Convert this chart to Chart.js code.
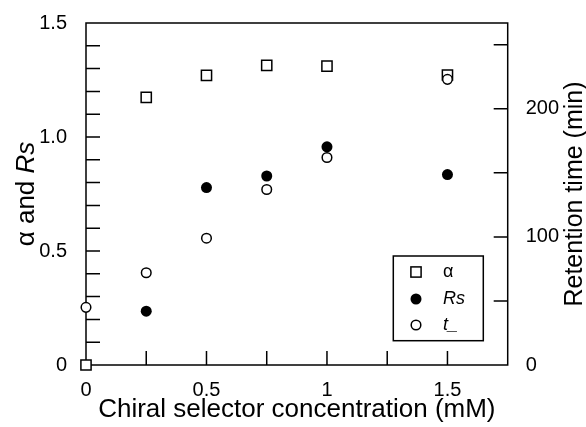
<!DOCTYPE html>
<html><head><meta charset="utf-8">
<script src="https://cdn.jsdelivr.net/npm/chart.js@4.4.1/dist/chart.umd.min.js"></script>
<style>html,body{margin:0;padding:0;background:#fff;} #wrap{width:586px;height:427px;}</style>
</head><body><div id="wrap"><canvas id="c" width="586" height="427"></canvas></div>
<script>
// ---- data ----
const concentration = [0, 0.25, 0.5, 0.75, 1, 1.5];
const alphaValues = [0, 1.174, 1.27, 1.314, 1.311, 1.272];
const rsValues = [null, 0.236, 0.778, 0.829, 0.957, 0.835];
const retentionTime = [45, 72, 99, 137, 162, 223];
const xLabelValues = [0, 0.5, 1, 1.5];
const xTickLabels = ['0', '0.5', '1', '1.5'];
const leftLabelValues = [0, 0.5, 1, 1.5];
const leftTickLabels = ['0', '0.5', '1.0', '1.5'];
const rightLabelValues = [0, 100, 200];
const rightTickLabels = ['0', '100', '200'];
const xTitle = 'Chiral selector concentration (mM)';
const leftTitleParts = [['α and ', false], ['Rs', true]];
const rightTitle = 'Retention time (min)';
const legendLabels = ['α', 'Rs', 't_'];

const FONT = '"Liberation Sans", Arial, Helvetica, sans-serif';
const TITLE_PX = 26, RTITLE_PX = 25, TICK_PX = 20, LEG_PX = 18;
const pts = ys => concentration.map((x, i) => ({x: x, y: ys[i]})).filter(p => p.y !== null);
const findLabel = (vals, labels, v) => { const i = vals.findIndex(u => Math.abs(u - v) < 1e-9); return i >= 0 ? labels[i] : ''; };
const stepTicks = (min, max, step) => { const a = []; for (let k = 0; min + k * step <= max + 1e-9; k++) a.push({value: +(min + k * step).toFixed(6)}); return a; };

const frame = {
  id: 'frame',
  beforeDatasetsDraw(chart) {
    const {ctx, chartArea: a, scales} = chart;
    ctx.save();
    ctx.strokeStyle = '#000'; ctx.lineWidth = 1.5;
    ctx.strokeRect(a.left, a.top, a.right - a.left, a.bottom - a.top);
    const T = 14;
    ctx.beginPath();
    scales.x.ticks.forEach(t => { if (t.value > scales.x.min && t.value < scales.x.max) { const px = scales.x.getPixelForValue(t.value); ctx.moveTo(px, a.bottom); ctx.lineTo(px, a.bottom - T); } });
    scales.y.ticks.forEach(t => { if (t.value > scales.y.min && t.value < scales.y.max) { const py = scales.y.getPixelForValue(t.value); ctx.moveTo(a.left, py); ctx.lineTo(a.left + T, py); } });
    scales.y2.ticks.forEach(t => { if (t.value > scales.y2.min && t.value < scales.y2.max) { const py = scales.y2.getPixelForValue(t.value); ctx.moveTo(a.right, py); ctx.lineTo(a.right - T, py); } });
    ctx.stroke();
    ctx.restore();
  },
  afterDraw(chart) {
    const {ctx, chartArea: a} = chart;
    ctx.save();
    ctx.fillStyle = '#000';
    // x title
    ctx.font = TITLE_PX + 'px ' + FONT; ctx.textAlign = 'center'; ctx.textBaseline = 'alphabetic';
    ctx.fillText(xTitle, (a.left + a.right) / 2, 417);
    // left title (mixed italic)
    const cy = (a.top + a.bottom) / 2;
    ctx.save(); ctx.translate(34, cy); ctx.rotate(-Math.PI / 2);
    let total = 0;
    leftTitleParts.forEach(p => { ctx.font = (p[1] ? 'italic ' : '') + TITLE_PX + 'px ' + FONT; total += ctx.measureText(p[0]).width; });
    let xx = -total / 2; ctx.textAlign = 'left';
    leftTitleParts.forEach(p => { ctx.font = (p[1] ? 'italic ' : '') + TITLE_PX + 'px ' + FONT; ctx.fillText(p[0], xx, 0); xx += ctx.measureText(p[0]).width; });
    ctx.restore();
    // right title
    ctx.save(); ctx.translate(582, cy); ctx.rotate(-Math.PI / 2);
    ctx.font = RTITLE_PX + 'px ' + FONT; ctx.textAlign = 'center';
    ctx.fillText(rightTitle, 0, 0);
    ctx.restore();
    // legend
    const bx = 393.3, by = 256, bw = 90, bh = 84.7;
    ctx.lineWidth = 1.5; ctx.strokeStyle = '#000';
    ctx.strokeRect(bx, by, bw, bh);
    const rows = [272, 299, 325], sx = 416, tx = 443;
    ctx.fillStyle = '#fff'; ctx.fillRect(sx - 5.1, rows[0] - 5.1, 10.2, 10.2); ctx.strokeRect(sx - 5.1, rows[0] - 5.1, 10.2, 10.2);
    ctx.fillStyle = '#000'; ctx.beginPath(); ctx.arc(sx, rows[1], 5.5, 0, Math.PI * 2); ctx.fill();
    ctx.fillStyle = '#fff'; ctx.beginPath(); ctx.arc(sx, rows[2], 4.8, 0, Math.PI * 2); ctx.fill(); ctx.stroke();
    ctx.fillStyle = '#000'; ctx.textAlign = 'left'; ctx.textBaseline = 'middle';
    ctx.font = LEG_PX + 'px ' + FONT; ctx.fillText(legendLabels[0], tx, rows[0]);
    ctx.font = 'italic ' + LEG_PX + 'px ' + FONT; ctx.fillText(legendLabels[1], tx, rows[1]);
    ctx.fillText(legendLabels[2], tx, rows[2]);
    ctx.restore();
  }
};

new Chart(document.getElementById('c'), {
  type: 'scatter',
  data: { datasets: [
    {label: 'α', data: pts(alphaValues), yAxisID: 'y', pointStyle: 'rect', pointRadius: 7.2, pointHoverRadius: 7.2, borderColor: '#000', backgroundColor: '#fff', borderWidth: 1.5, order: 2, clip: false},
    {label: 'Rs', data: pts(rsValues), yAxisID: 'y', pointStyle: 'circle', pointRadius: 5.5, pointHoverRadius: 5.5, borderColor: '#000', backgroundColor: '#000', borderWidth: 0, order: 1, clip: false},
    {label: 't_', data: pts(retentionTime), yAxisID: 'y2', pointStyle: 'circle', pointRadius: 4.8, pointHoverRadius: 4.8, borderColor: '#000', backgroundColor: '#fff', borderWidth: 1.5, order: 0, clip: false}
  ]},
  options: {
    responsive: false, animation: false, devicePixelRatio: 1,
    layout: {padding: {top: 19.5, left: 0, right: 0, bottom: 0}},
    plugins: {legend: {display: false}, tooltip: {enabled: false}},
    scales: {
      x: {type: 'linear', position: 'bottom', min: 0, max: 1.75,
        afterFit: s => { s.height = 62; },
        afterBuildTicks: s => { s.ticks = stepTicks(0, 1.75, 0.25); },
        grid: {display: false}, border: {display: false},
        ticks: {autoSkip: false, maxRotation: 0, padding: 5, color: '#000', font: {family: FONT, size: TICK_PX},
          callback: v => findLabel(xLabelValues, xTickLabels, v)}},
      y: {type: 'linear', position: 'left', min: 0, max: 1.5,
        afterFit: s => { s.width = 86; },
        afterBuildTicks: s => { s.ticks = stepTicks(0, 1.5, 0.1); },
        grid: {display: false}, border: {display: false},
        ticks: {autoSkip: false, padding: 11, color: '#000', font: {family: FONT, size: TICK_PX},
          callback: v => findLabel(leftLabelValues, leftTickLabels, v)}},
      y2: {type: 'linear', position: 'right', min: 0, max: 267,
        afterFit: s => { s.width = 78.3; },
        afterBuildTicks: s => { s.ticks = stepTicks(0, 250, 50); },
        grid: {display: false}, border: {display: false},
        ticks: {autoSkip: false, padding: 10, color: '#000', font: {family: FONT, size: TICK_PX},
          callback: v => findLabel(rightLabelValues, rightTickLabels, v)}}
    }
  },
  plugins: [frame]
});
</script></body></html>
